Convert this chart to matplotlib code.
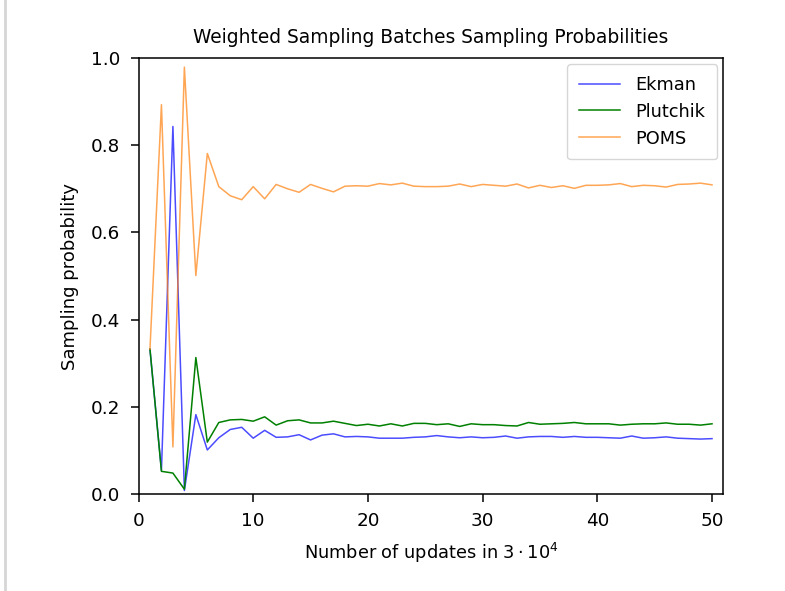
import matplotlib
matplotlib.use("Agg")
import matplotlib.pyplot as plt
from matplotlib.lines import Line2D

updates = list(range(1, 51))

ekman = [0.332, 0.054, 0.843, 0.008, 0.182, 0.101, 0.129, 0.148, 0.153, 0.128,
         0.146, 0.130, 0.131, 0.136, 0.124, 0.135, 0.138, 0.131, 0.132, 0.131,
         0.128, 0.128, 0.128, 0.130, 0.131, 0.134, 0.131, 0.129, 0.131, 0.129,
         0.130, 0.133, 0.128, 0.131, 0.132, 0.132, 0.130, 0.132, 0.130, 0.130,
         0.129, 0.128, 0.133, 0.128, 0.129, 0.131, 0.128, 0.127, 0.126, 0.127]

plutchik = [0.332, 0.052, 0.048, 0.011, 0.313, 0.119, 0.164, 0.170, 0.171, 0.167,
            0.177, 0.158, 0.168, 0.170, 0.163, 0.163, 0.167, 0.162, 0.157, 0.160,
            0.156, 0.161, 0.156, 0.162, 0.162, 0.159, 0.161, 0.155, 0.161, 0.159,
            0.159, 0.157, 0.156, 0.164, 0.160, 0.161, 0.162, 0.164, 0.161, 0.161,
            0.161, 0.158, 0.160, 0.161, 0.161, 0.163, 0.160, 0.160, 0.158, 0.161]

poms = [0.332, 0.893, 0.108, 0.979, 0.501, 0.781, 0.705, 0.684, 0.675, 0.705,
        0.677, 0.710, 0.700, 0.692, 0.710, 0.701, 0.693, 0.706, 0.707, 0.706,
        0.712, 0.709, 0.713, 0.706, 0.705, 0.705, 0.706, 0.711, 0.705, 0.710,
        0.708, 0.706, 0.711, 0.702, 0.708, 0.703, 0.707, 0.701, 0.708, 0.708,
        0.709, 0.712, 0.705, 0.708, 0.707, 0.704, 0.710, 0.711, 0.713, 0.709]

series = [("Ekman", ekman, (0.0, 0.0, 1.0, 0.7)),
          ("Plutchik", plutchik, (0.0, 0.5, 0.0, 1.0)),
          ("POMS", poms, (1.0, 0.5, 0.05, 0.7))]

plt.rcParams["font.family"] = ["DejaVu Sans"]

fig = plt.figure(figsize=(7.85, 5.91), dpi=100)
ax = fig.add_axes([138.5 / 785, 97 / 591, (723.5 - 138.5) / 785, (494 - 58) / 591])

for name, vals, col in series:
    ax.plot(updates, vals, color=col, linewidth=1.1, label=name)

ax.set_xlim(0, 51)
ax.set_ylim(0, 1.0)
ax.set_xticks([0, 10, 20, 30, 40, 50])
ax.set_yticks([0.0, 0.2, 0.4, 0.6, 0.8, 1.0])
ax.tick_params(direction="out", length=6, width=1.1, labelsize=13.2, pad=7)
for sp in ax.spines.values():
    sp.set_linewidth(1.1)

ax.set_title("Weighted Sampling Batches Sampling Probabilities", fontsize=13.4, pad=11)
ax.set_xlabel(r"Number of updates in $3 \cdot 10^4$", fontsize=12.8, labelpad=8)
ax.set_ylabel("Sampling probability", fontsize=13, labelpad=9)

leg = ax.legend(loc="upper right", fontsize=12.8, handlelength=2.3,
                borderpad=0.65, labelspacing=0.5, handletextpad=0.9,
                borderaxespad=0.35, fancybox=True, framealpha=0.8)
leg.get_frame().set_edgecolor("#cccccc")

# thin light rule along the left edge of the canvas
fig.add_artist(Line2D([5 / 785, 5 / 785], [0.0, 1.0], transform=fig.transFigure,
                      color="#d6d6d6", linewidth=2))

fig.savefig("out.png", dpi=100)
